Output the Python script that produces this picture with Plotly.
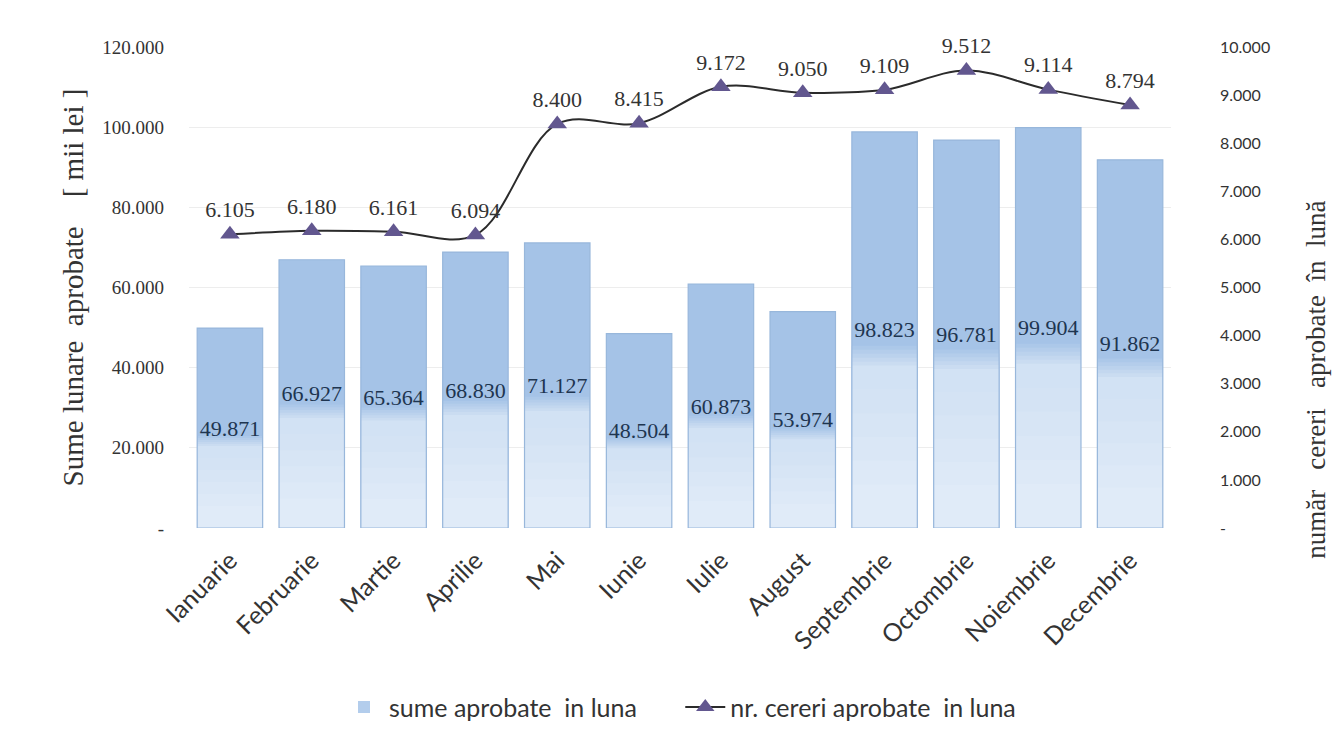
import plotly.graph_objects as go

# ---- data ----
luni = ["Ianuarie", "Februarie", "Martie", "Aprilie", "Mai", "Iunie", "Iulie",
        "August", "Septembrie", "Octombrie", "Noiembrie", "Decembrie"]
sume_aprobate = [49871, 66927, 65364, 68830, 71127, 48504, 60873, 53974,
                 98823, 96781, 99904, 91862]
nr_cereri = [6105, 6180, 6161, 6094, 8400, 8415, 9172, 9050, 9109, 9512, 9114, 8794]

left_tickvals = [0, 20000, 40000, 60000, 80000, 100000, 120000]
left_ticktext = ["-", "20.000", "40.000", "60.000", "80.000", "100.000", "120.000"]
right_tickvals = [0, 1000, 2000, 3000, 4000, 5000, 6000, 7000, 8000, 9000, 10000]
right_ticktext = ["-", "1.000", "2.000", "3.000", "4.000", "5.000", "6.000",
                  "7.000", "8.000", "9.000", "10.000"]

# ---- styling (gradient approximation: lighter lower bands) ----
top_rgb = (165, 195, 231)
mid_rgb = (210, 226, 244)
bot_rgb = (224, 235, 248)
bands = [(1.0, top_rgb)]
n1 = 6
for k in range(n1):
    t = (k + 1) / n1
    f = 0.47 - 0.06 * t
    c = tuple(int(a + (b - a) * t) for a, b in zip(top_rgb, mid_rgb))
    bands.append((f, c))
n2 = 5
for k in range(n2):
    t = (k + 1) / n2
    f = 0.41 - 0.3 * t
    c = tuple(int(a + (b - a) * t) for a, b in zip(mid_rgb, bot_rgb))
    bands.append((f, c))

fig = go.Figure()
for frac, col in bands:
    fig.add_trace(go.Bar(
        x=luni, y=[v * frac for v in sume_aprobate],
        marker=dict(color="rgb(%d,%d,%d)" % col, line=dict(width=0)),
        showlegend=False, hoverinfo="skip", yaxis="y"))

fig.add_trace(go.Bar(
    x=luni, y=sume_aprobate, name="sume aprobate  in luna",
    marker=dict(color="rgba(0,0,0,0)", line=dict(color="#98B7DB", width=1.2)),
    text=sume_aprobate, texttemplate="%{y:,.0f}", textposition="inside",
    insidetextanchor="middle", textangle=0, constraintext="none",
    textfont=dict(family="Liberation Serif", size=22, color="#1E3550"),
    showlegend=False, yaxis="y"))

# legend proxy for bars
fig.add_trace(go.Bar(
    x=[None], y=[None], name="sume aprobate  in luna      ",
    marker=dict(color="#B3CDEC", line=dict(width=0)), showlegend=True))

fig.add_trace(go.Scatter(
    x=luni, y=nr_cereri, name="nr. cereri aprobate  in luna", yaxis="y2",
    mode="lines+markers+text", line=dict(color="#2B2B2B", width=2, shape="spline"),
    marker=dict(symbol="triangle-up", size=17, color="#62578F"),
    text=nr_cereri, texttemplate="%{y:,.0f}", textposition="top center",
    cliponaxis=False,
    textfont=dict(family="Liberation Serif", size=22, color="#333333")))

# the page body has an 8px default margin, so the figure is made 8px smaller
fig.update_layout(
    width=1335, height=727,
    separators=",.",
    barmode="overlay", bargap=0.2,
    paper_bgcolor="white", plot_bgcolor="white",
    margin=dict(l=181, r=172, t=39, b=207, autoexpand=False),
    xaxis=dict(range=[-0.5, 11.5], tickangle=-45,
               tickfont=dict(family="Lato", size=25, color="#333333"),
               ticklabelstandoff=12,
               showgrid=False, showline=False, ticks="", automargin=False),
    yaxis=dict(range=[0, 120000], tickvals=left_tickvals, ticktext=left_ticktext,
               tickfont=dict(family="Liberation Serif", size=19, color="#333333"),
               showgrid=True, gridcolor="#EDEDED", gridwidth=1, zeroline=False,
               ticklabelstandoff=24, automargin=False,
               title=dict(text="Sume lunare  aprobate    [ mii lei ]",
                          font=dict(family="Liberation Serif", size=29, color="#333333"),
                          standoff=10)),
    yaxis2=dict(range=[0, 10000], tickvals=right_tickvals, ticktext=right_ticktext,
                overlaying="y", side="right", showgrid=False, zeroline=False,
                ticklabelstandoff=48, automargin=False,
                tickfont=dict(family="Lato", size=16, color="#333333")),
    legend=dict(orientation="h", x=0.5, xanchor="center", y=-0.325, yanchor="top",
                font=dict(family="Lato", size=25, color="#333333"),
                traceorder="normal", itemwidth=40),
    annotations=[dict(text="număr   cereri   aprobate  în  lună", textangle=-90,
                      xref="paper", yref="paper", x=1.0 + 145 / 982, y=0.308,
                      xanchor="center", yanchor="middle", showarrow=False,
                      font=dict(family="Liberation Serif", size=27, color="#333333"))],
)

fig.write_html("out.html")
